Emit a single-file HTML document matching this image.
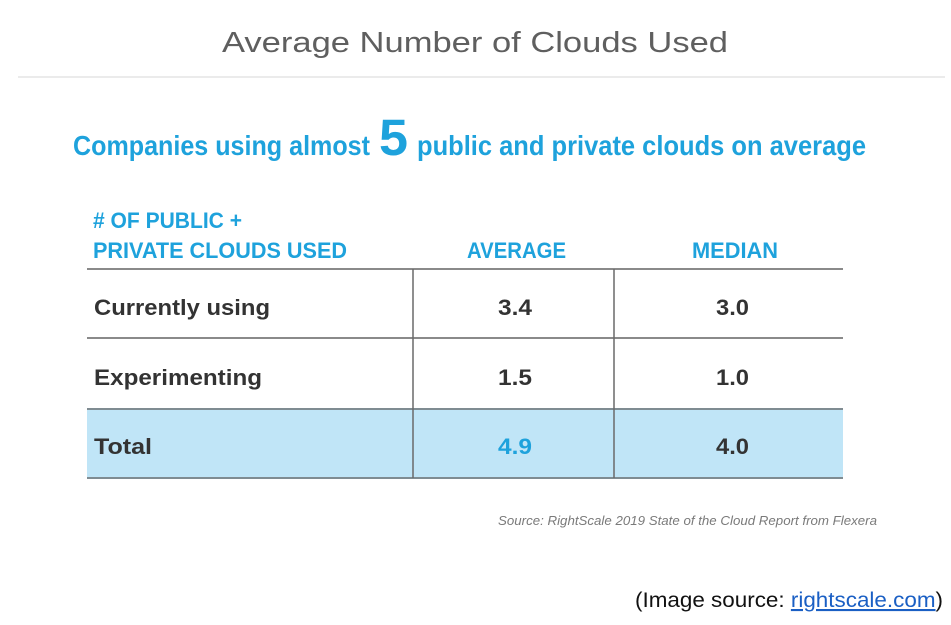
<!DOCTYPE html>
<html>
<head>
<meta charset="utf-8">
<style>
  html,body{margin:0;padding:0;background:#fff;}
  svg{display:block;}
</style>
</head>
<body>
<svg width="951" height="625" viewBox="0 0 951 625" xmlns="http://www.w3.org/2000/svg">
  <rect width="951" height="625" fill="#ffffff"/>
  <!-- Title -->
  <text x="222" y="52" font-family="Liberation Sans, sans-serif" font-size="29" fill="#5f5f5f" textLength="506" lengthAdjust="spacingAndGlyphs">Average Number of Clouds Used</text>
  <line x1="18" y1="77" x2="945" y2="77" stroke="#ebebeb" stroke-width="2"/>

  <!-- Subtitle -->
  <g font-family="Liberation Sans, sans-serif" font-weight="bold" fill="#1ea2dc">
    <text x="73" y="155" font-size="28" textLength="297" lengthAdjust="spacingAndGlyphs">Companies using almost</text>
    <text x="379" y="155" font-size="51" textLength="29" lengthAdjust="spacingAndGlyphs">5</text>
    <text x="417" y="155" font-size="28" textLength="449" lengthAdjust="spacingAndGlyphs">public and private clouds on average</text>
  </g>

  <!-- Table total fill -->
  <rect x="87" y="409" width="756" height="69" fill="#c0e5f7"/>

  <!-- Table lines -->
  <g stroke="#8a8a8a" stroke-width="2">
    <line x1="87" y1="269" x2="843" y2="269"/>
    <line x1="87" y1="338" x2="843" y2="338"/>
    <line x1="87" y1="409" x2="843" y2="409" stroke="#7f8c92"/>
    <line x1="87" y1="478" x2="843" y2="478" stroke="#7f8c92"/>
  </g>
  <g stroke="#6a6a6a" stroke-width="1.5">
    <line x1="413" y1="269" x2="413" y2="478"/>
    <line x1="614" y1="269" x2="614" y2="478"/>
  </g>

  <!-- Header -->
  <g font-family="Liberation Sans, sans-serif" font-weight="bold" fill="#1ea2dc" font-size="22">
    <text x="93" y="228" textLength="149" lengthAdjust="spacingAndGlyphs"># OF PUBLIC +</text>
    <text x="93" y="258" textLength="254" lengthAdjust="spacingAndGlyphs">PRIVATE CLOUDS USED</text>
    <text x="467" y="258" textLength="99" lengthAdjust="spacingAndGlyphs">AVERAGE</text>
    <text x="692" y="258" textLength="86" lengthAdjust="spacingAndGlyphs">MEDIAN</text>
  </g>

  <!-- Rows -->
  <g font-family="Liberation Sans, sans-serif" font-weight="bold" fill="#333333" font-size="22">
    <text x="94" y="315" textLength="176" lengthAdjust="spacingAndGlyphs">Currently using</text>
    <text x="498" y="315" textLength="34" lengthAdjust="spacingAndGlyphs">3.4</text>
    <text x="716" y="315" textLength="33" lengthAdjust="spacingAndGlyphs">3.0</text>

    <text x="94" y="385" textLength="168" lengthAdjust="spacingAndGlyphs">Experimenting</text>
    <text x="498" y="385" textLength="34" lengthAdjust="spacingAndGlyphs">1.5</text>
    <text x="716" y="385" textLength="33" lengthAdjust="spacingAndGlyphs">1.0</text>

    <text x="94" y="454" textLength="58" lengthAdjust="spacingAndGlyphs">Total</text>
    <text x="498" y="454" textLength="34" lengthAdjust="spacingAndGlyphs" fill="#1ea2dc">4.9</text>
    <text x="716" y="454" textLength="33" lengthAdjust="spacingAndGlyphs">4.0</text>
  </g>

  <!-- Source -->
  <text x="498" y="525" font-family="Liberation Sans, sans-serif" font-style="italic" font-size="12.5" fill="#7a7a7a" textLength="379" lengthAdjust="spacingAndGlyphs">Source: RightScale 2019 State of the Cloud Report from Flexera</text>

  <!-- Image source -->
  <text x="635" y="607" font-family="Liberation Sans, sans-serif" font-size="21" fill="#111111" textLength="308" lengthAdjust="spacingAndGlyphs">(Image source: <tspan fill="#1a5fc4" text-decoration="underline">rightscale.com</tspan>)</text>
</svg>
</body>
</html>
